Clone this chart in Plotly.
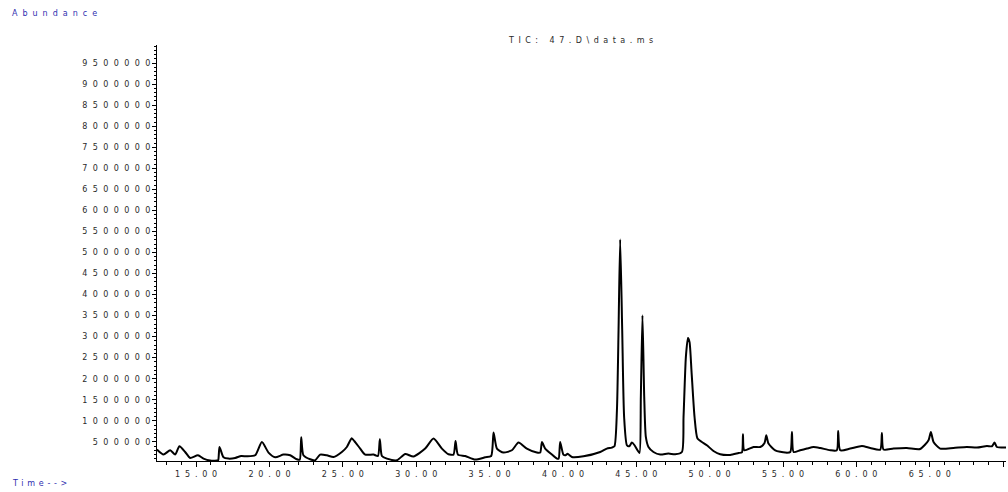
import plotly.graph_objects as go

# Total ion chromatogram: retention time (min) and abundance (counts)
time_min = [
    12.32, 12.77, 13.23, 13.57, 13.86, 14.25, 14.59, 15.12, 15.50, 15.95,
    16.41, 16.50, 16.59, 16.86, 17.20, 17.66, 18.07, 18.46, 19.02, 19.48,
    19.93, 20.39, 20.95, 21.41, 21.86, 22.06, 22.16, 22.31, 22.77, 23.11,
    23.45, 23.91, 24.36, 24.93, 25.27, 25.60, 25.79, 26.18, 26.52, 27.09,
    27.39, 27.52, 27.66, 28.00, 28.68, 29.25, 29.81, 30.61, 31.18, 31.75,
    32.20, 32.54, 32.68, 32.84, 33.34, 34.02, 34.70, 35.11, 35.27, 35.50,
    35.95, 36.52, 36.97, 37.54, 38.22, 38.45, 38.57, 38.79, 39.25, 39.59,
    39.71, 39.81, 40.03, 40.18, 40.32, 40.61, 41.40, 42.54, 42.99, 43.33,
    43.51, 43.68, 43.79, 43.90, 44.04, 44.17, 44.36, 44.52, 44.70, 44.88,
    45.08, 45.22, 45.31, 45.42, 45.54, 45.65, 45.83, 46.17, 46.63, 47.19,
    47.65, 48.11, 48.22, 48.38, 48.52, 48.63, 48.76, 48.97, 49.17, 49.47,
    49.81, 50.26, 50.72, 51.40, 51.97, 52.20, 52.27, 52.36, 52.99, 53.45,
    53.74, 53.86, 54.01, 54.47, 55.15, 55.50, 55.61, 55.72, 56.17, 56.63,
    57.08, 57.54, 58.22, 58.67, 58.76, 58.90, 59.58, 60.38, 60.95, 61.63,
    61.74, 61.85, 62.53, 63.44, 64.35, 64.92, 65.08, 65.26, 65.71, 66.62,
    67.53, 68.22, 68.90, 69.24, 69.42, 69.58, 70.26,
]
abundance = [
    316000, 197000, 300000, 197000, 395000, 259000, 117000, 181000, 102000, 55000,
    55000, 62000, 378000, 133000, 102000, 117000, 164000, 157000, 181000, 497000,
    245000, 133000, 197000, 181000, 86000, 74000, 609000, 181000, 86000, 62000,
    197000, 181000, 140000, 259000, 378000, 585000, 514000, 340000, 197000, 197000,
    164000, 561000, 164000, 102000, 62000, 212000, 150000, 340000, 578000, 340000,
    205000, 197000, 521000, 197000, 164000, 78000, 133000, 164000, 720000, 340000,
    245000, 300000, 483000, 340000, 245000, 245000, 497000, 340000, 197000, 102000,
    105000, 497000, 197000, 181000, 215000, 140000, 157000, 259000, 340000, 364000,
    395000, 1250000, 3150000, 5310000, 3150000, 1090000, 419000, 395000, 483000, 419000,
    300000, 235000, 1570000, 3510000, 1570000, 616000, 378000, 259000, 197000, 221000,
    205000, 259000, 1090000, 2520000, 2970000, 2870000, 2200000, 1090000, 578000, 497000,
    419000, 283000, 205000, 188000, 235000, 252000, 680000, 300000, 378000, 378000,
    473000, 656000, 459000, 300000, 245000, 259000, 735000, 259000, 300000, 340000,
    378000, 354000, 300000, 300000, 759000, 300000, 340000, 402000, 354000, 316000,
    711000, 316000, 340000, 354000, 331000, 537000, 735000, 497000, 340000, 354000,
    378000, 364000, 402000, 395000, 483000, 378000, 364000,
]

x_tick_values = [15, 20, 25, 30, 35, 40, 45, 50, 55, 60, 65, 70]
x_tick_labels = ["15.00", "20.00", "25.00", "30.00", "35.00", "40.00",
                 "45.00", "50.00", "55.00", "60.00", "65.00", ""]
y_tick_values = [500000 * k for k in range(1, 20)]
y_tick_labels = [str(v) for v in y_tick_values]

FONT = "DejaVu Sans"
FONT_SIZE = 8
TEXT_GREY = "#2a2a2a"
LABEL_BLUE = "#2f2fb0"


def spaced(text, gap):
    """Widely tracked text: letter-spacing on every glyph but the last."""
    if len(text) < 2:
        return text
    return '<span style="letter-spacing:%.1fpx">%s</span>%s' % (gap, text[:-1], text[-1])


fig = go.Figure()
fig.add_trace(go.Scatter(
    x=time_min, y=abundance, mode="lines",
    line=dict(color="#000000", width=2, shape="spline", smoothing=0.6),
    hoverinfo="skip", showlegend=False,
))

fig.update_layout(
    template="none",
    width=1008, height=492,
    margin=dict(l=157, r=2, t=45, b=31, autoexpand=False),
    paper_bgcolor="white", plot_bgcolor="white",
    showlegend=False,
    font=dict(family=FONT, size=FONT_SIZE, color=TEXT_GREY),
)

fig.update_xaxes(
    range=[12.33, 70.2],
    tickmode="array", tickvals=x_tick_values,
    ticktext=[spaced(t, 4.8) for t in x_tick_labels],
    ticks="outside", ticklen=5, tickwidth=1, tickcolor="#000",
    showline=True, linecolor="#000", linewidth=1,
    showgrid=False, zeroline=False, automargin=False,
    tickfont=dict(family=FONT, size=FONT_SIZE, color=TEXT_GREY),
    minor=dict(dtick=1, tick0=0, ticks="outside", ticklen=3, tickcolor="#000", showgrid=False),
)

fig.update_yaxes(
    range=[45000, 9930000],
    tickmode="array", tickvals=y_tick_values,
    ticktext=[spaced(t, 5.4) for t in y_tick_labels],
    ticks="outside", ticklen=4, tickwidth=1, tickcolor="#000",
    showline=True, linecolor="#000", linewidth=1,
    showgrid=False, zeroline=False, automargin=False,
    tickfont=dict(family=FONT, size=FONT_SIZE, color=TEXT_GREY),
    minor=dict(dtick=100000, tick0=0, ticks="outside", ticklen=2, tickcolor="#000", showgrid=False),
)

fig.add_annotation(
    text=spaced("TIC: 47.D\\data.ms", 4.5),
    xref="paper", yref="paper", x=0.4994, y=1.012,
    xanchor="center", yanchor="middle", showarrow=False,
    font=dict(family=FONT, size=FONT_SIZE, color=TEXT_GREY),
)
fig.add_annotation(
    text=spaced("Abundance", 5.0),
    xref="paper", yref="paper", x=-0.1735, y=1.0746,
    xanchor="left", yanchor="middle", showarrow=False,
    font=dict(family=FONT, size=FONT_SIZE, color=LABEL_BLUE),
)
fig.add_annotation(
    text=spaced("Time-->", 3.7),
    xref="paper", yref="paper", x=-0.1735, y=-0.0529,
    xanchor="left", yanchor="middle", showarrow=False,
    font=dict(family=FONT, size=FONT_SIZE, color=LABEL_BLUE),
)

fig.write_html("out.html")
